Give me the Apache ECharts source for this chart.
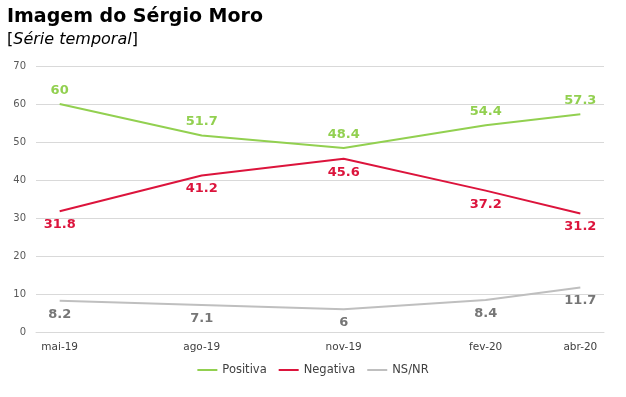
<!DOCTYPE html>
<html>
<head>
<meta charset="utf-8">
<script src="https://cdn.jsdelivr.net/npm/echarts@6/dist/echarts.min.js"></script>
<style>
  html, body { margin: 0; padding: 0; background: #fff; }
  #main { width: 626px; height: 397px; }
</style>
</head>
<body>
<div id="main"></div>
<script>
// meses do eixo (um slot por mes, como o eixo de datas do Excel)
var allMonths = ['mai-19', 'jun-19', 'jul-19', 'ago-19', 'set-19', 'out-19',
                 'nov-19', 'dez-19', 'jan-20', 'fev-20', 'mar-20', 'abr-20'];
// meses com pesquisa
var surveyMonths = ['mai-19', 'ago-19', 'nov-19', 'fev-20', 'abr-20'];

var positiva = [60, 51.7, 48.4, 54.4, 57.3];
var negativa = [31.8, 41.2, 45.6, 37.2, 31.2];
var nsnr = [8.2, 7.1, 6, 8.4, 11.7];

var font = '"DejaVu Sans", sans-serif';

// coloca os valores nos meses certos, o resto fica null
function spread(values) {
    return allMonths.map(function (m) {
        var i = surveyMonths.indexOf(m);
        return i >= 0 ? values[i] : null;
    });
}

function makeSeries(name, values, color, labelColor, pos) {
    return {
        name: name,
        type: 'line',
        data: spread(values),
        connectNulls: true,
        symbol: 'circle',
        symbolSize: 0.1,
        showSymbol: true,
        lineStyle: { color: color, width: 2 },
        itemStyle: { color: color },
        label: {
            show: true,
            position: pos,
            distance: 7,
            color: labelColor,
            fontFamily: font,
            fontWeight: 'bold',
            fontSize: 13
        },
        emphasis: { disabled: true }
    };
}

var myChart = echarts.init(document.getElementById('main'));
myChart.setOption({
    animation: false,
    title: {
        left: 2,
        top: 3,
        text: 'Imagem do Sérgio Moro',
        textStyle: { fontFamily: font, fontWeight: 'bold', fontSize: 19, color: '#000' },
        subtext: '[{i|Série temporal}]',
        itemGap: 5,
        subtextStyle: {
            fontFamily: font, fontSize: 16, color: '#000',
            rich: { i: { fontFamily: font, fontSize: 16, fontStyle: 'italic', color: '#000' } }
        }
    },
    tooltip: { show: false },
    grid: { left: 36, right: 22, top: 66, bottom: 65 },
    xAxis: {
        type: 'category',
        data: allMonths,
        boundaryGap: true,
        axisLine: { show: true, lineStyle: { color: '#d9d9d9', width: 1 } },
        axisTick: { show: false },
        axisLabel: {
            interval: function (idx, val) { return surveyMonths.indexOf(val) >= 0; },
            color: '#404040',
            fontFamily: font,
            fontSize: 10.5,
            margin: 10
        }
    },
    yAxis: {
        type: 'value',
        min: 0,
        max: 70,
        interval: 10,
        axisLine: { show: false },
        axisTick: { show: false },
        splitLine: { lineStyle: { color: '#d9d9d9', width: 1 } },
        axisLabel: { color: '#595959', fontFamily: font, fontSize: 10, margin: 10 }
    },
    legend: {
        bottom: 16,
        left: 'center',
        itemWidth: 20,
        itemHeight: 2,
        itemGap: 12,
        icon: 'rect',
        textStyle: { color: '#404040', fontFamily: font, fontSize: 11.5 },
        data: ['Positiva', 'Negativa', 'NS/NR']
    },
    series: [
        makeSeries('Positiva', positiva, '#92d050', '#92d050', 'top'),
        makeSeries('Negativa', negativa, '#dc143c', '#dc143c', 'bottom'),
        makeSeries('NS/NR', nsnr, '#bfbfbf', '#767676', 'bottom')
    ]
});
</script>
</body>
</html>
